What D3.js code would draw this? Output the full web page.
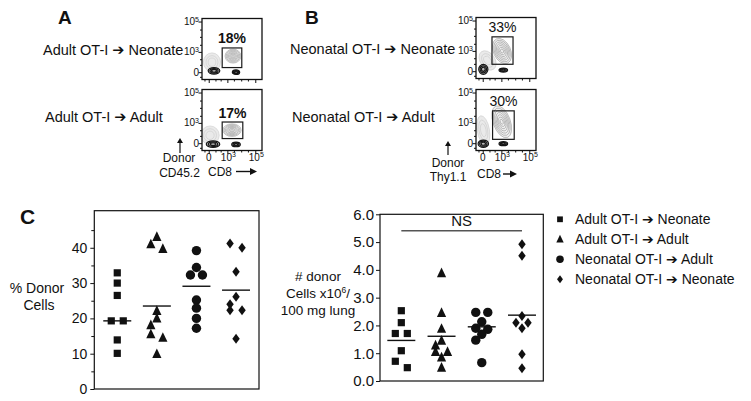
<!DOCTYPE html>
<html><head><meta charset="utf-8">
<script src="https://cdn.jsdelivr.net/npm/d3@7"></script>
<style>
body{margin:0;background:#fff}
svg{display:block;background:#fff}
text{font-family:"Liberation Sans",Arial,"DejaVu Sans",sans-serif;fill:#111}
</style>
</head><body>
<svg id="c" width="751" height="401"></svg>
<script>
// ---------------- DATA ----------------
const groups = ["Adult OT-I \u2794 Neonate", "Adult OT-I \u2794 Adult", "Neonatal OT-I \u2794 Adult", "Neonatal OT-I \u2794 Neonate"];

// Panel C left: % donor cells
const pctAdultNeo   = [32.9, 30.0, 26.5, 19.3, 19.3, 13.9, 10.1];
const pctAdultAdult = [43.1, 41.0, 39.7, 22.1, 20.0, 18.1, 15.5, 14.5, 9.9];
const pctNeoAdult   = [39.2, 34.4, 32.3, 32.3, 25.2, 22.9, 20.0, 17.2];
const pctNeoNeo     = [41.2, 40.0, 33.2, 26.1, 24.0, 22.3, 22.3, 14.2];
const pctCenter     = [19.3, 23.5, 29.1, 28.0];
const pctTicks      = [0, 10, 20, 30, 40];
const pctMinorTicks = [5, 15, 25, 35, 45];

// Panel C right: # donor cells x10^6 / 100 mg lung
const numAdultNeo   = [2.53, 2.10, 1.71, 1.71, 1.09, 0.71, 0.48];
const numAdultAdult = [3.88, 2.45, 1.88, 1.45, 1.28, 1.05, 1.05, 0.85, 0.48];
const numNeoAdult   = [2.47, 2.47, 2.13, 1.90, 1.86, 1.68, 1.47, 0.66];
const numNeoNeo     = [4.92, 4.51, 2.34, 2.10, 2.10, 1.90, 0.96, 0.46];
const numCenter     = [1.46, 1.61, 1.95, 2.37];
const numTicks      = [0, 1, 2, 3, 4, 5, 6];
const nsLevel       = 5.41;

// Panels A/B: flow plots. gate = [CD8 lo, CD8 hi, donor lo, donor hi]
const flowPercent = ["18%", "17%", "33%", "30%"];
const gateAdultNeo   = [400, 11000, 50, 1850];
const gateAdultAdult = [400, 13000, 50, 1150];
const gateNeoNeo     = [177, 7000, 91, 8600];
const gateNeoAdult   = [200, 8500, 39, 6350];
// populations: [CD8, donor, spreadX, spreadY (symlog units), tilt, kind]
const popsAdultNeo = [[35,174,1.4,1.4,0,"faint"],[2590,508,1.3,1.05,0,"light"],[4260,0,0.6,0.35,0,"dark"],[68,11,0.95,0.5,0,"dark"]];
const popsAdultAdult = [[12,114,1.5,1.4,0,"faint"],[2185,303,1.5,0.95,0,"light"],[4260,-10,0.7,0.35,0,"dark"],[51,-8,1.1,0.5,0,"dark"]];
const popsNeoNeo = [[60,200,1.2,1.6,-35,"faint"],[1117,978,1.4,2.0,-25,"light"],[1393,9,0.7,0.3,0,"dark"],[5,16,0.75,0.75,0,"dark"]];
const popsNeoAdult = [[5,300,1.0,2.2,-10,"faint"],[1060,1200,1.4,2.5,-20,"light"],[1393,-4,0.7,0.3,0,"dark"],[5,-4,0.85,0.55,0,"dark"]];
const flowMajorTicks = [0, 1e3, 1e5];
const flowMinorTicks = [-50, 100, 300, 3000, 10000, 30000];

// ---------------- DRAWING ----------------
const svg = d3.select("#c");
const FONT = 14;

// text with a heavy arrow glyph
function arrowText(sel, str){
  const parts = str.split("\u2794");
  sel.text(null);
  sel.append("tspan").text(parts[0]);
  if (parts.length > 1){
    sel.append("tspan").attr("font-family", "DejaVu Sans").attr("font-weight", "bold").text("\u2794");
    sel.append("tspan").text(parts[1]);
  }
  return sel;
}

const symSquare = {draw(ctx, s){ const h = s/2; ctx.rect(-h, -h, s, s); }};
const symTriangle = {draw(ctx, s){ const w = s, h = s*1.05; ctx.moveTo(0, -h*0.58); ctx.lineTo(w/2, h*0.42); ctx.lineTo(-w/2, h*0.42); ctx.closePath(); }};
const symCircle = {draw(ctx, s){ const r = s/2; ctx.moveTo(r, 0); ctx.arc(0, 0, r, 0, 2*Math.PI); }};
const symDiamond = {draw(ctx, s){ const w = s*0.37, h = s*0.5; ctx.moveTo(0, -h); ctx.lineTo(w, 0); ctx.lineTo(0, h); ctx.lineTo(-w, 0); ctx.closePath(); }};
const shapeTypes = [symSquare, symTriangle, symCircle, symDiamond];
const shapeSizes = [7.2, 9.2, 9.4, 10];

// horizontal dodge of points with (nearly) equal values
function dodge(ys){
  const order = d3.range(ys.length).sort((a,b) => ys[a]-ys[b]);
  const cols = new Array(ys.length);
  const runs = []; let cur = [order[0]];
  for (let k = 1; k < order.length; k++){
    if (Math.abs(ys[order[k]] - ys[order[k-1]]) < 6.5) cur.push(order[k]);
    else { runs.push(cur); cur = [order[k]]; }
  }
  runs.push(cur);
  const placed = [];
  const free = (i, c, th) => placed.every(j => cols[j] !== c || Math.abs(ys[j]-ys[i]) >= th);
  for (const run of runs){
    if (run.length === 1){
      const i = run[0]; const c = [0,-1,1].find(c => free(i, c, 7)); cols[i] = c === undefined ? 0 : c; placed.push(i);
    } else if (run.length === 2){
      cols[run[0]] = -1; cols[run[1]] = 1; placed.push(run[0], run[1]);
    } else {
      let last = 0;
      for (let k = 0; k < run.length; k++){
        const i = run[k];
        if (k+1 < run.length && Math.abs(ys[run[k+1]] - ys[i]) < 2){
          cols[i] = -1; cols[run[k+1]] = 1; placed.push(i, run[k+1]); last = 1; k++; continue;
        }
        const opp = last === 0 ? -1 : -last;
        const c = [0, opp, -opp].find(c => free(i, c, 9));
        cols[i] = c === undefined ? 0 : c; placed.push(i);
        if (cols[i] !== 0) last = cols[i];
      }
    }
  }
  return cols;
}

function dotPanel(o){
  const g = svg.append("g");
  const x = d3.scalePoint().domain(groups).range([o.x0, o.x1]).padding(o.pad);
  const y = d3.scaleLinear().domain(o.domain).range([o.y1, o.y0]);
  const ax = g.append("g").attr("transform", `translate(${o.x0},0)`)
    .call(d3.axisLeft(y).tickValues(o.ticks).tickSize(4).tickSizeOuter(0).tickPadding(o.pad2).tickFormat(o.fmt));
  ax.select(".domain").remove();
  ax.selectAll("text").attr("font-size", o.tickFont).attr("font-family", null).attr("fill", "#111");
  ax.selectAll("line").attr("stroke", "#111");
  if (o.minor){
    const mx = g.append("g").attr("transform", `translate(${o.x0},0)`)
      .call(d3.axisLeft(y).tickValues(o.minor).tickSize(3).tickSizeOuter(0).tickFormat(""));
    mx.select(".domain").remove();
    mx.selectAll("line").attr("stroke", "#111");
  }
  g.append("rect").attr("x", o.x0).attr("y", o.y0).attr("width", o.x1-o.x0).attr("height", o.y1-o.y0)
    .attr("fill", "none").attr("stroke", "#111").attr("stroke-width", 1.2);
  o.series.forEach((vals, gi) => {
    const ys = vals.map(v => y(v));
    const cols = dodge(ys);
    const sym = d3.symbol().type(shapeTypes[gi]).size(shapeSizes[gi]);
    g.append("g").selectAll("path").data(vals).join("path")
      .attr("d", sym)
      .attr("transform", (d, i) => `translate(${x(groups[gi]) + cols[i]*6},${y(d)})`)
      .attr("fill", "#111");
  });
  g.append("g").selectAll("line").data(o.centers).join("line")
    .attr("x1", (d, i) => x(groups[i]) - 14).attr("x2", (d, i) => x(groups[i]) + 14)
    .attr("y1", d => y(d)).attr("y2", d => y(d))
    .attr("stroke", "#111").attr("stroke-width", 1.4);
  return {x, y, g};
}

// Left dot panel
dotPanel({x0: 94.3, x1: 259, y0: 210.7, y1: 389, domain: [0, 50.5], pad: 0.58, pad2: 3,
  ticks: pctTicks, minor: pctMinorTicks, fmt: d3.format("d"), tickFont: 14,
  series: [pctAdultNeo, pctAdultAdult, pctNeoAdult, pctNeoNeo], centers: pctCenter});

// Right dot panel
const R = dotPanel({x0: 380, x1: 543.3, y0: 214.3, y1: 381, domain: [0, 6], pad: 0.53, pad2: 2,
  ticks: numTicks, minor: null, fmt: d3.format(".1f"), tickFont: 15,
  series: [numAdultNeo, numAdultAdult, numNeoAdult, numNeoNeo], centers: numCenter});
R.g.append("line").attr("x1", R.x(groups[0])).attr("x2", R.x(groups[3]))
  .attr("y1", R.y(nsLevel)).attr("y2", R.y(nsLevel)).attr("stroke", "#555").attr("stroke-width", 1.6);
R.g.append("text").attr("x", (R.x(groups[0]) + R.x(groups[3]))/2).attr("y", R.y(nsLevel) - 5)
  .attr("text-anchor", "middle").attr("font-size", 15).text("NS");

// axis titles for panel C
svg.append("text").attr("x", 37).attr("y", 293).attr("text-anchor", "middle").attr("font-size", FONT).text("% Donor");
svg.append("text").attr("x", 39).attr("y", 310).attr("text-anchor", "middle").attr("font-size", FONT).text("Cells");
svg.append("text").attr("x", 318).attr("y", 281).attr("text-anchor", "middle").attr("font-size", 13.5).text("# donor");
const t2 = svg.append("text").attr("x", 318).attr("y", 298).attr("text-anchor", "middle").attr("font-size", 13.5).text("Cells x10");
t2.append("tspan").attr("dy", -5).attr("font-size", 8.5).text("6");
t2.append("tspan").attr("dy", 5).text("/");
svg.append("text").attr("x", 318).attr("y", 315).attr("text-anchor", "middle").attr("font-size", 13.5).text("100 mg lung");

// Legend
const leg = svg.append("g");
groups.forEach((name, i) => {
  const yy = 219.3 + i*20;
  leg.append("path").attr("d", d3.symbol().type(shapeTypes[i]).size(shapeSizes[i]*0.8)())
    .attr("transform", `translate(560,${yy})`).attr("fill", "#111");
  arrowText(leg.append("text").attr("x", 575).attr("y", yy + 5).attr("font-size", FONT), name);
});

// Panel letters
svg.append("text").attr("x", 58).attr("y", 23.5).attr("font-size", 19).attr("font-weight", "bold").text("A");
svg.append("text").attr("x", 305).attr("y", 23.5).attr("font-size", 19).attr("font-weight", "bold").text("B");
svg.append("text").attr("x", 20).attr("y", 223.5).attr("font-size", 21).attr("font-weight", "bold").text("C");

// ---------------- flow plots ----------------
const slog = v => Math.sign(v)*Math.log1p(Math.abs(v)/50);
const sexp = t => Math.sign(t)*50*Math.expm1(Math.abs(t));
let clipId = 0;
function supLabel(sel, exp){
  sel.text("10");
  sel.append("tspan").attr("dy", -3.5).attr("font-size", 7).text(exp);
}
function flowPlot(o){
  const W = 60, H = 61;
  const xs = d3.scaleSymlog().constant(50).domain([-100, 3e5]).range([o.x, o.x + W]);
  const ys = d3.scaleSymlog().constant(50).domain([-100, 1.58e5]).range([o.y + H, o.y]);
  const g = svg.append("g");
  const id = "clip" + (clipId++);
  g.append("clipPath").attr("id", id).append("rect").attr("x", o.x).attr("y", o.y).attr("width", W).attr("height", H);
  const inner = g.append("g").attr("clip-path", `url(#${id})`);
  const kinds = {
    faint: {rings: [1, 0.7, 0.45], stroke: "#c4c4c4", sw: 0.5, fill: "#e3e3e3", fo: 0.75},
    light: {rings: [1, 0.86, 0.72, 0.58, 0.44, 0.3, 0.16], stroke: "#8c8c8c", sw: 0.5, fill: "#eeeeee", fo: 0.9},
    dark:  {rings: [1, 0.7, 0.42], stroke: "#151515", sw: 1.2, fill: "#b0b0b0", fo: 0.9}
  };
  o.pops.forEach(p => {
    const [px, py, sx, sy, tilt, kind] = p;
    const k = kinds[kind];
    const cx = xs(px), cy = ys(py);
    const rx = Math.abs(xs(sexp(slog(px) + sx)) - cx);
    const ry = Math.abs(ys(sexp(slog(py) + sy)) - cy);
    const pg = inner.append("g").attr("transform", `translate(${cx},${cy}) rotate(${tilt})`);
    pg.append("ellipse").attr("rx", rx).attr("ry", ry).attr("fill", k.fill).attr("fill-opacity", k.fo).attr("stroke", "none");
    k.rings.forEach(f => pg.append("ellipse").attr("rx", rx*f).attr("ry", ry*f)
      .attr("fill", "none").attr("stroke", k.stroke).attr("stroke-width", k.sw));
  });
  const gt = o.gate;
  g.append("rect").attr("x", xs(gt[0])).attr("y", ys(gt[3])).attr("width", xs(gt[1]) - xs(gt[0])).attr("height", ys(gt[2]) - ys(gt[3]))
    .attr("fill", "none").attr("stroke", "#1a1a1a").attr("stroke-width", 1.2);
  g.append("text").attr("x", (xs(gt[0]) + xs(gt[1]))/2).attr("y", ys(gt[3]) - 4.5).attr("text-anchor", "middle")
    .attr("font-size", 14).attr("font-weight", o.bold ? "bold" : "normal").text(o.pct);
  g.append("rect").attr("x", o.x).attr("y", o.y).attr("width", W).attr("height", H)
    .attr("fill", "none").attr("stroke", "#111").attr("stroke-width", 1.3);
  const addAxis = (axis, tf) => {
    const a = g.append("g").attr("transform", tf).call(axis);
    a.select(".domain").remove();
    a.selectAll("line").attr("stroke", "#111").attr("stroke-width", 1);
    a.selectAll("text").remove();
  };
  addAxis(d3.axisLeft(ys).tickValues(flowMajorTicks).tickSize(3.5).tickSizeOuter(0), `translate(${o.x},0)`);
  addAxis(d3.axisLeft(ys).tickValues(flowMinorTicks).tickSize(2).tickSizeOuter(0), `translate(${o.x},0)`);
  addAxis(d3.axisBottom(xs).tickValues(flowMajorTicks).tickSize(3.5).tickSizeOuter(0), `translate(0,${o.y + H})`);
  addAxis(d3.axisBottom(xs).tickValues(flowMinorTicks).tickSize(2).tickSizeOuter(0), `translate(0,${o.y + H})`);
  flowMajorTicks.forEach(v => {
    const t = g.append("text").attr("x", o.x - 3).attr("y", ys(v) + 3.5).attr("text-anchor", "end").attr("font-size", 10);
    if (v === 0) t.text("0"); else supLabel(t, String(Math.round(Math.log10(v))));
  });
  if (o.xlabels){
    flowMajorTicks.forEach(v => {
      const t = g.append("text").attr("x", xs(v) + (v === 0 ? 0 : 1)).attr("y", o.y + H + 10).attr("text-anchor", "middle").attr("font-size", 10);
      if (v === 0) t.text("0"); else supLabel(t, String(Math.round(Math.log10(v))));
    });
  }
  arrowText(svg.append("text").attr("x", o.lx).attr("y", o.ly).attr("font-size", 14.5), o.label);
  return {xs, ys};
}

flowPlot({x: 202, y: 18.5, gate: gateAdultNeo, pops: popsAdultNeo, pct: flowPercent[0], bold: true, label: groups[0], lx: 43, ly: 55});
flowPlot({x: 202, y: 89.5, gate: gateAdultAdult, pops: popsAdultAdult, pct: flowPercent[1], bold: true, label: groups[1], lx: 45, ly: 122, xlabels: true});
flowPlot({x: 476, y: 17.5, gate: gateNeoNeo, pops: popsNeoNeo, pct: flowPercent[2], bold: false, label: groups[3], lx: 290, ly: 54});
flowPlot({x: 476, y: 89.5, gate: gateNeoAdult, pops: popsNeoAdult, pct: flowPercent[3], bold: false, label: groups[2], lx: 292, ly: 122, xlabels: true});

function upArrow(x, y1, y2){
  svg.append("line").attr("x1", x).attr("x2", x).attr("y1", y1).attr("y2", y2 + 4).attr("stroke", "#111").attr("stroke-width", 1.2);
  svg.append("path").attr("d", `M${x},${y2} L${x-3},${y2+5} L${x+3},${y2+5} Z`).attr("fill", "#111");
}
function rightArrow(x1, x2, y){
  svg.append("line").attr("x1", x1).attr("x2", x2 - 5).attr("y1", y).attr("y2", y).attr("stroke", "#111").attr("stroke-width", 1.4);
  svg.append("path").attr("d", `M${x2},${y} L${x2-7},${y-3.5} L${x2-7},${y+3.5} Z`).attr("fill", "#111");
}
svg.append("text").attr("x", 179).attr("y", 162).attr("text-anchor", "middle").attr("font-size", 12).text("Donor");
svg.append("text").attr("x", 179.5).attr("y", 177).attr("text-anchor", "middle").attr("font-size", 12).text("CD45.2");
upArrow(180, 153, 138);
svg.append("text").attr("x", 208).attr("y", 176).attr("font-size", 12).text("CD8");
rightArrow(236, 257, 171.5);

svg.append("text").attr("x", 448).attr("y", 167).attr("text-anchor", "middle").attr("font-size", 12).text("Donor");
svg.append("text").attr("x", 448).attr("y", 181).attr("text-anchor", "middle").attr("font-size", 12).text("Thy1.1");
upArrow(448, 155, 141);
svg.append("text").attr("x", 477).attr("y", 178).attr("font-size", 12).text("CD8");
rightArrow(503, 517, 174);
</script>
</body></html>
